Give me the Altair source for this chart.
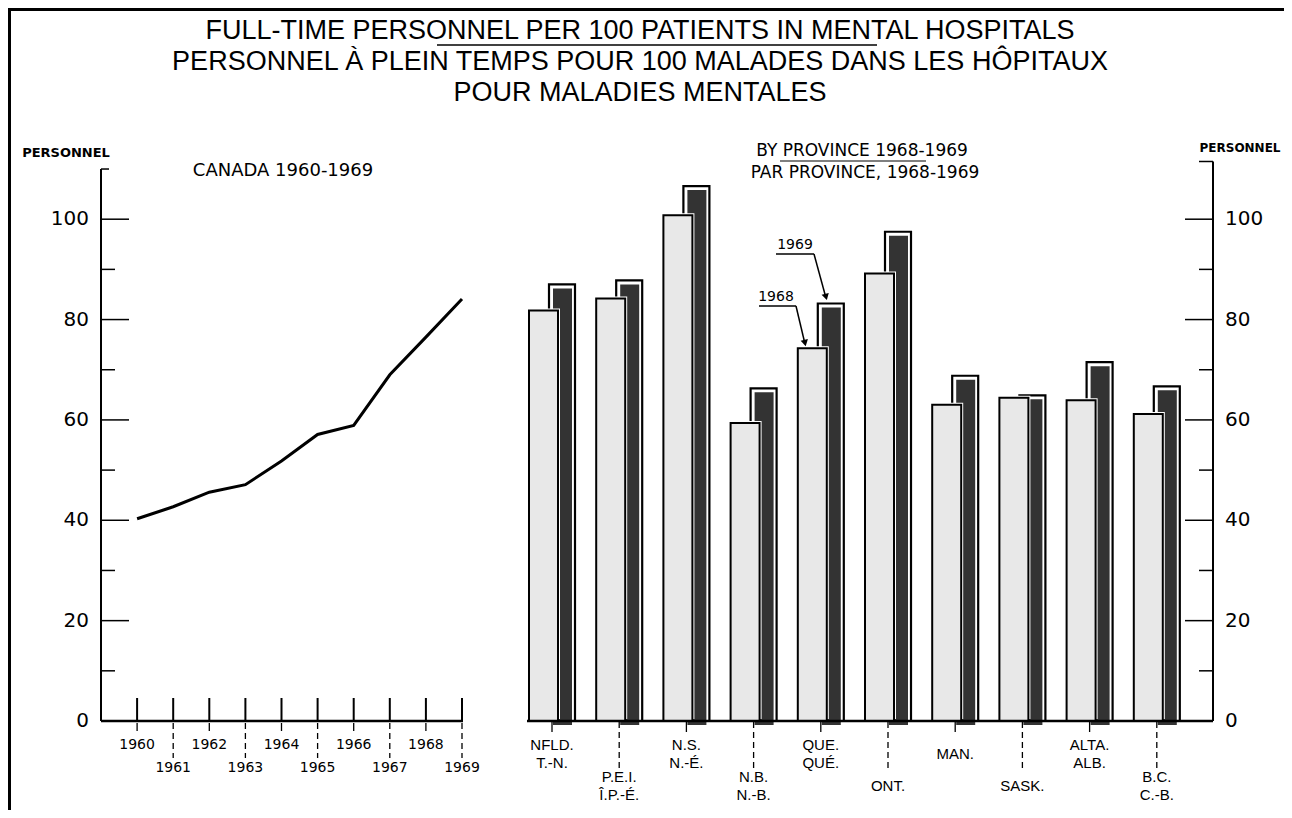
import altair as alt
import pandas as pd

# ---------------- data ----------------
years = [1960, 1961, 1962, 1963, 1964, 1965, 1966, 1967, 1968, 1969]
canada = [40.3, 42.7, 45.6, 47.1, 51.8, 57.1, 58.9, 69.0, 76.5, 84.1]

provinces = ["NFLD.", "P.E.I.", "N.S.", "N.B.", "QUE.", "ONT.", "MAN.", "SASK.", "ALTA.", "B.C."]
labels_fr = ["T.-N.", "Î.P.-É.", "N.-É.", "N.-B.", "QUÉ.", "", "", "", "ALB.", "C.-B."]
v1968 = [81.8, 84.2, 100.8, 59.4, 74.3, 89.2, 63.0, 64.4, 63.9, 61.2]
v1969 = [87.0, 87.8, 106.6, 66.3, 83.2, 97.5, 68.8, 64.9, 71.5, 66.7]

y_major = [20, 40, 60, 80, 100]
y_minor = [10, 30, 50, 70, 90]
y_labels = [0, 20, 40, 60, 80, 100]

title_lines = [
    "FULL-TIME PERSONNEL PER 100 PATIENTS IN MENTAL HOSPITALS",
    "PERSONNEL À PLEIN TEMPS POUR 100 MALADES DANS LES HÔPITAUX",
    "POUR MALADIES MENTALES",
]

# ---------------- layout helpers ----------------
W, H = 1276, 802


def P(v):
    # page pixel -> chart pixel (8px page margin)
    return v - 8


FNUM = "DejaVu Sans"
FLAB = "Liberation Sans Narrow, Liberation Sans, sans-serif"

yscale = alt.Scale(domain=[0, 110], range=[P(721), P(721) - 110 * 5.018], nice=False, zero=False)
xyear = alt.Scale(domain=[1959, 1969], range=[P(101), P(462)], nice=False, zero=False)
xprov = alt.Scale(domain=provinces, range=[P(518.4), P(1190.4)], paddingInner=0, paddingOuter=0)
pix = alt.Scale(domain=[0, H], range=[0, H], nice=False, zero=False)

df_line = pd.DataFrame({"year": years, "v": canada})
df_bars = pd.DataFrame({"prov": provinces, "v68": v1968, "v69": v1969})
df_bars["row"] = [i % 2 for i in range(len(provinces))]

# label rows for provinces
lab_rows = []
for i, (en, fr) in enumerate(zip(provinces, labels_fr)):
    row = i % 2
    top = 745 + row * 32
    if fr:
        lab_rows.append({"prov": en, "t": en, "py": P(top)})
        lab_rows.append({"prov": en, "t": fr, "py": P(top + 18)})
    else:
        lab_rows.append({"prov": en, "t": en, "py": P(top + 9)})
df_plab = pd.DataFrame(lab_rows)

df_years = pd.DataFrame({"year": years})
df_years["odd"] = [y % 2 for y in years]
df_years["t"] = [str(y) for y in years]
df_years["py"] = [P(745) if y % 2 == 0 else P(768) for y in years]

X_year = alt.X("year:Q", scale=xyear, axis=None)
X_prov = alt.X("prov:N", scale=xprov, axis=None)


def txt(t, x, y, size, font=FNUM, align="center", weight="normal"):
    return alt.Chart(pd.DataFrame({"t": [t]})).mark_text(
        font=font, fontSize=size, align=align, baseline="middle", fontWeight=weight, color="black"
    ).encode(x=alt.value(x), y=alt.value(y), text="t:N")


def hrule(x1, x2, y, w=1.5):
    return alt.Chart(pd.DataFrame({"a": [0]})).mark_rule(color="black", strokeWidth=w).encode(
        x=alt.value(x1), x2=alt.value(x2), y=alt.value(y)
    )


def seg(x1, y1, x2, y2, w=1.5):
    return alt.Chart(pd.DataFrame({"a": [0]})).mark_rule(color="black", strokeWidth=w).encode(
        x=alt.value(x1), x2=alt.value(x2), y=alt.value(y1), y2=alt.value(y2)
    )


layers = []

# frame
layers.append(hrule(0, W, 1.5, 3))
layers.append(seg(1.5, 0, 1.5, H, 3))

# titles
for k, line in enumerate(title_lines):
    layers.append(txt(line, P(640), P(31 + 31 * k), 27, font=FLAB))
layers.append(hrule(P(437), P(877), P(45), 1.5))

# panel headings
layers.append(txt("PERSONNEL", P(66), P(153), 13, weight="bold"))
layers.append(txt("PERSONNEL", P(1240), P(148), 12, weight="bold"))
layers.append(txt("CANADA 1960-1969", P(283), P(171), 18))
layers.append(txt("BY PROVINCE 1968-1969", P(862), P(151), 17))
layers.append(txt("PAR PROVINCE, 1968-1969", P(865), P(173), 17))
layers.append(hrule(P(780), P(926), P(161), 1.2))

# ---------------- left panel ----------------
ax_l = P(101)
layers.append(
    alt.Chart(pd.DataFrame({"v": [0, 110]})).mark_rule(color="black", strokeWidth=2).encode(
        x=alt.value(ax_l), y=alt.Y("min(v):Q", scale=yscale, axis=None), y2=alt.Y2("max(v):Q")
    )
)
layers.append(
    alt.Chart(pd.DataFrame({"v": [110]})).mark_rule(color="black", strokeWidth=1.5).encode(
        x=alt.value(ax_l), x2=alt.value(ax_l + 8), y=alt.Y("v:Q", scale=yscale, axis=None)
    )
)
layers.append(
    alt.Chart(pd.DataFrame({"v": y_major})).mark_rule(color="black", strokeWidth=1.5).encode(
        x=alt.value(ax_l), x2=alt.value(ax_l + 28), y=alt.Y("v:Q", scale=yscale, axis=None)
    )
)
layers.append(
    alt.Chart(pd.DataFrame({"v": y_minor})).mark_rule(color="black", strokeWidth=1.5).encode(
        x=alt.value(ax_l), x2=alt.value(ax_l + 14), y=alt.Y("v:Q", scale=yscale, axis=None)
    )
)
layers.append(
    alt.Chart(pd.DataFrame({"v": y_labels})).mark_text(
        font=FNUM, fontSize=20, align="right", baseline="middle", color="black"
    ).encode(x=alt.value(ax_l - 12), y=alt.Y("v:Q", scale=yscale, axis=None), text="v:Q")
)
# x axis baseline
layers.append(hrule(ax_l, P(463), P(721), 2.5))
# year ticks above axis
layers.append(
    alt.Chart(df_years).mark_rule(color="black", strokeWidth=2).encode(
        x=X_year, y=alt.value(P(698)), y2=alt.value(P(721))
    )
)
# dashes below
layers.append(
    alt.Chart(df_years).transform_filter("datum.odd == 0").mark_rule(color="black", strokeWidth=1.3).encode(
        x=X_year, y=alt.value(P(723)), y2=alt.value(P(731))
    )
)
layers.append(
    alt.Chart(df_years).transform_filter("datum.odd == 1").mark_rule(
        color="black", strokeWidth=1.3, strokeDash=[6, 4]
    ).encode(x=X_year, y=alt.value(P(723)), y2=alt.value(P(758)))
)
layers.append(
    alt.Chart(df_years).mark_text(font=FNUM, fontSize=14, baseline="middle", color="black").encode(
        x=X_year, y=alt.Y("py:Q", scale=pix, axis=None), text="t:N"
    )
)
# line
layers.append(
    alt.Chart(df_line).mark_line(color="black", strokeWidth=3).encode(
        x=X_year, y=alt.Y("v:Q", scale=yscale, axis=None)
    )
)

# ---------------- right panel ----------------
Y69 = alt.Y("v69:Q", scale=yscale, axis=None)
Y68 = alt.Y("v68:Q", scale=yscale, axis=None)
bars = alt.Chart(df_bars)
layers.append(bars.mark_bar(width=26, xOffset=10, fill="white", stroke="black", strokeWidth=2.2).encode(x=X_prov, y=Y69))
layers.append(bars.mark_bar(width=19, xOffset=10.5, yOffset=4, y2Offset=-2, fill="#333333").encode(x=X_prov, y=Y69))
layers.append(bars.mark_bar(width=33, xOffset=-8.5, yOffset=-2, fill="white").encode(x=X_prov, y=Y68))
layers.append(bars.mark_bar(width=29, xOffset=-8.5, fill="#e8e8e8", stroke="black", strokeWidth=2).encode(x=X_prov, y=Y68))

ax_r = P(1213)
layers.append(hrule(P(527), ax_r, P(721), 2.5))
layers.append(
    alt.Chart(pd.DataFrame({"v": [0, 111.5]})).mark_rule(color="black", strokeWidth=2).encode(
        x=alt.value(ax_r), y=alt.Y("min(v):Q", scale=yscale, axis=None), y2=alt.Y2("max(v):Q")
    )
)
layers.append(
    alt.Chart(pd.DataFrame({"v": [111.5]})).mark_rule(color="black", strokeWidth=1.5).encode(
        x=alt.value(ax_r - 14), x2=alt.value(ax_r), y=alt.Y("v:Q", scale=yscale, axis=None)
    )
)
layers.append(
    alt.Chart(pd.DataFrame({"v": y_major})).mark_rule(color="black", strokeWidth=1.5).encode(
        x=alt.value(ax_r - 28), x2=alt.value(ax_r), y=alt.Y("v:Q", scale=yscale, axis=None)
    )
)
layers.append(
    alt.Chart(pd.DataFrame({"v": y_minor})).mark_rule(color="black", strokeWidth=1.5).encode(
        x=alt.value(ax_r - 14), x2=alt.value(ax_r), y=alt.Y("v:Q", scale=yscale, axis=None)
    )
)
layers.append(
    alt.Chart(pd.DataFrame({"v": y_labels})).mark_text(
        font=FNUM, fontSize=20, align="left", baseline="middle", color="black"
    ).encode(x=alt.value(ax_r + 12), y=alt.Y("v:Q", scale=yscale, axis=None), text="v:Q")
)
# province ticks
layers.append(
    bars.transform_filter("datum.row == 0").mark_rule(color="black", strokeWidth=1.3).encode(
        x=X_prov, y=alt.value(P(722)), y2=alt.value(P(732))
    )
)
layers.append(
    bars.transform_filter("datum.row == 1").mark_rule(color="black", strokeWidth=1.3, strokeDash=[6, 4]).encode(
        x=X_prov, y=alt.value(P(722)), y2=alt.value(P(768))
    )
)
layers.append(
    alt.Chart(df_plab).mark_text(font=FLAB, fontSize=15, baseline="middle", color="black").encode(
        x=X_prov, y=alt.Y("py:Q", scale=pix, axis=None), text="t:N"
    )
)

# annotations
layers.append(txt("1969", P(795), P(245), 14))
layers.append(hrule(P(776), P(814), P(254), 1.5))
layers.append(seg(P(814), P(254), P(826), P(298), 1.5))
layers.append(txt("1968", P(776), P(297), 14))
layers.append(hrule(P(759), P(796), P(306), 1.5))
layers.append(seg(P(796), P(306), P(805), P(344), 1.5))
for (xt, yt, ang) in [(P(826), P(297), 345), (P(805), P(343), 347)]:
    layers.append(
        alt.Chart(pd.DataFrame({"a": [0]})).mark_point(
            shape="triangle-down", filled=True, size=55, angle=ang, color="black", opacity=1
        ).encode(x=alt.value(xt), y=alt.value(yt))
    )

chart = alt.layer(*layers).resolve_scale(x="independent", y="independent").properties(
    width=W, height=H, padding=0, autosize=alt.AutoSizeParams(type="none")
).configure_view(stroke=None).configure(background="white")

chart.save("out.html", embed_options={"renderer": "svg", "actions": False})
